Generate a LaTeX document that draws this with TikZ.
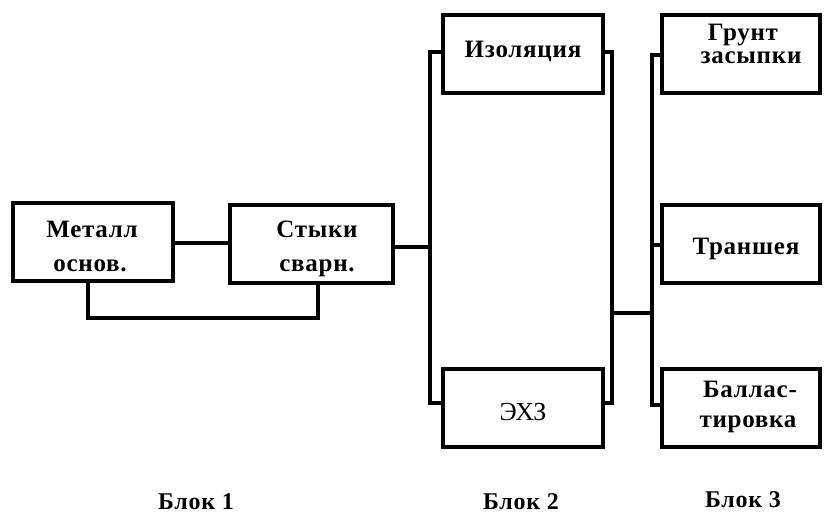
\documentclass[tikz,border=0pt]{standalone}
\usepackage{fontspec}
\setmainfont{Liberation Serif}
\newfontfamily\spc[LetterSpace=3]{Liberation Serif}
\begin{document}
\begin{tikzpicture}[x=1pt,y=-1pt,
  box/.style={draw,line width=4pt,minimum width=#1,minimum height=78pt,inner sep=0pt},
  box/.default=160pt,
  txt/.style={anchor=base,inner sep=0pt,font=\spc\bfseries\fontsize{25}{28}\selectfont},
  thin/.style={anchor=base,inner sep=0pt,font=\fontsize{26}{28}\selectfont},
  wire/.style={line width=4pt},
  blk/.style={anchor=base,inner sep=0pt,font=\spc\bfseries\fontsize{24}{28}\selectfont}]
\useasboundingbox (0,0) rectangle (825,515);
% boxes
\node[box] (met) at (93,242) {};
\node[box=163pt] (sty) at (311.5,244) {};
\node[box] (izo) at (522.5,53.5) {};
\node[box] (exz) at (522.5,407.5) {};
\node[box=158pt] (gru) at (741,53.5) {};
\node[box=158pt] (tra) at (741,244) {};
\node[box=158pt] (bal) at (741,407.5) {};
% texts
\node[txt] (met1) at (92,237) {Металл};
\node[txt] (met2) at (90,271) {основ.};
\node[txt] (sty1) at (317,237) {Стыки};
\node[txt] (sty2) at (317,271) {сварн.};
\node[txt] (izo1) at (523,57) {Изоляция};
\node[thin] (exz1) at (523,420) {ЭХЗ};
\node[txt] (gru1) at (743,40) {Грунт};
\node[txt] (gru2) at (751,63) {засыпки};
\node[txt] (tra1) at (746,254) {Траншея};
\node[txt] (bal1) at (750,397) {Баллас-};
\node[txt] (bal2) at (748,427) {тировка};
\node[blk] (b1) at (196,509) {Блок 1};
\node[blk] (b2) at (521,509) {Блок 2};
\node[blk] (b3) at (743,507) {Блок 3};
% bus coordinates
\coordinate (l1t) at (430,52);
\coordinate (l1b) at (430,403);
\coordinate (r1t) at (612,52);
\coordinate (r1b) at (612,403);
\coordinate (r1m) at (612,313);
\coordinate (l3t) at (652,55);
\coordinate (l3m) at (652,313);
\coordinate (l3b) at (652,405);
\coordinate (loopl) at (88,318);
\coordinate (loopr) at (318,318);
\draw[wire] (met.east |- 0,243) -- (sty.west |- 0,243);
\draw[wire] (met.south -| loopl) -- (loopl) -- (loopr) -- (sty.south -| loopr);
\draw[wire] (sty.east |- 0,247) -- (430,247);
\draw[wire] (izo.west |- l1t) -- (l1t) -- (l1b) -- (exz.west |- l1b);
\draw[wire] (izo.east |- r1t) -- (r1t) -- (r1b) -- (exz.east |- r1b);
\draw[wire] (r1m) -- (l3m);
\draw[wire] (gru.west |- l3t) -- (l3t) -- (l3b) -- (bal.west |- l3b);
\draw[wire] (l3t |- 0,245) -- (tra.west |- 0,245);
\end{tikzpicture}
\end{document}
